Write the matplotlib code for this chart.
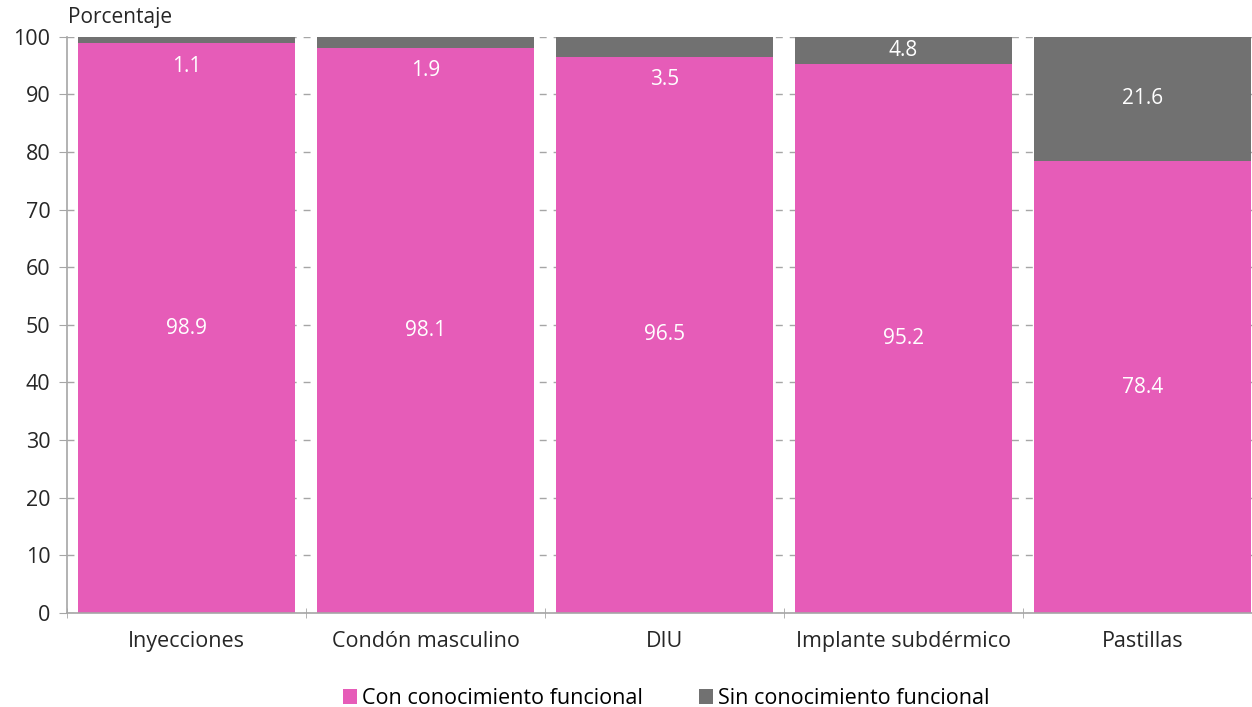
import numpy as np
import matplotlib.pyplot as plt

plt.rcParams['font.family'] = ['Open Sans', 'DejaVu Sans']

categorias = ["Inyecciones", "Condón masculino", "DIU", "Implante subdérmico", "Pastillas"]
con_conocimiento = [98.9, 98.1, 96.5, 95.2, 78.4]
sin_conocimiento = [1.1, 1.9, 3.5, 4.8, 21.6]

rosa = "#E65CB8"
gris = "#717171"
texto = "#262626"
lineas = "#A6A6A6"

fig = plt.figure(figsize=(12.52, 7.07), dpi=100)
ax = fig.add_axes([0.0535, 0.133, 0.9545, 0.815])

x = np.arange(len(categorias))
ax.bar(x, con_conocimiento, width=0.908, color=rosa, label="Con conocimiento funcional", zorder=2)
ax.bar(x, sin_conocimiento, width=0.908, bottom=con_conocimiento, color=gris,
       label="Sin conocimiento funcional", zorder=2)

for i in range(len(categorias)):
    c = con_conocimiento[i]
    s = sin_conocimiento[i]
    ax.text(x[i], c / 2, f"{c:.1f}", ha="center", va="center", color="white", fontsize=15)
    if s < 4:
        ys = c - 4
    else:
        ys = c + s / 2
    ax.text(x[i], ys, f"{s:.1f}", ha="center", va="center", color="white", fontsize=15)

ax.set_xlim(-0.5, len(categorias) - 0.5)
ax.set_ylim(0, 100)
ax.set_yticks(np.arange(0, 101, 10))
ax.set_xticks(x)
ax.set_xticklabels(categorias, fontsize=15.5, color=texto)
ax.tick_params(axis="y", labelsize=15.5, colors=texto, length=6, color=lineas, pad=6)
ax.tick_params(axis="x", length=0, pad=13)
# separadores de categoria
ax.set_xticks(np.arange(-0.5, len(categorias)), minor=True)
ax.tick_params(axis="x", which="minor", length=7, color=lineas, direction="inout")

ax.grid(axis="y", color=lineas, linestyle=(0, (5, 5)), linewidth=1, zorder=0)
for sp in ["top", "right"]:
    ax.spines[sp].set_visible(False)
for sp in ["left", "bottom"]:
    ax.spines[sp].set_color(lineas)
    ax.spines[sp].set_linewidth(1.2)

fig.text(0.054, 0.975, "Porcentaje", fontsize=15, color=texto, ha="left", va="center")

fig.legend(loc="center", bbox_to_anchor=(0.532, 0.012), ncol=2, frameon=False, fontsize=15.5,
           handlelength=0.65, handleheight=0.65, handletextpad=0.25, columnspacing=2.6)

fig.savefig("out.png", dpi=100)
